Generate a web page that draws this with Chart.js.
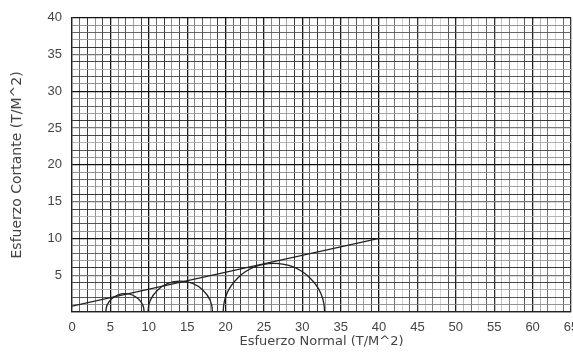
<!DOCTYPE html>
<html>
<head>
<meta charset="utf-8">
<script src="https://cdn.jsdelivr.net/npm/chart.js@4"></script>
<style>
  html, body { margin: 0; padding: 0; background: #fff; }
  #wrap { width: 573px; height: 354px; }
</style>
</head>
<body>
<div id="wrap"><canvas id="mohr"></canvas></div>
<script>
'use strict';

// envolvente de falla
const envelopeX = [0, 40];
const envelopeY = [0.8, 10];

// circulos de Mohr (centro, radio)
const circleCenters = [6.9, 14.1, 26.3];
const circleRadii = [2.5, 4.2, 6.6];

const xMin = 0, xMax = 65, yMin = 0, yMax = 40;

// darkness pattern of the scanned graph paper
const vShade = ['#111', '#555', '#222', '#888', '#333', '#1a1a1a', '#777', '#444', '#999', '#2a2a2a'];
const vShadeFar = ['#222', '#aaa', '#666', '#ccc', '#555', '#333', '#bbb', '#777', '#ccc', '#444'];
const hShade = ['#111', '#888', '#444', '#aaa', '#333', '#777', '#222', '#999', '#555', '#888'];

const circlesPlugin = {
  id: 'circles',
  afterDatasetsDraw(chart) {
    const { ctx, scales: { x, y } } = chart;
    ctx.save();
    ctx.strokeStyle = '#222';
    ctx.lineWidth = 1.3;
    circleCenters.forEach((c, i) => {
      const r = circleRadii[i];
      const cx = x.getPixelForValue(c);
      const cy = y.getPixelForValue(0);
      const rx = Math.abs(x.getPixelForValue(c + r) - cx);
      const ry = Math.abs(y.getPixelForValue(r) - cy);
      ctx.beginPath();
      ctx.ellipse(cx, cy, rx, ry, 0, Math.PI, 2 * Math.PI);
      ctx.stroke();
    });
    ctx.restore();
  }
};

new Chart('mohr', {
  type: 'scatter',
  data: {
    datasets: [{
      data: envelopeX.map((v, i) => ({ x: v, y: envelopeY[i] })),
      showLine: true,
      borderColor: '#222',
      borderWidth: 1.2,
      pointRadius: 0
    }]
  },
  options: {
    responsive: true,
    maintainAspectRatio: false,
    animation: false,
    layout: { padding: { left: 0, right: 2, top: 12, bottom: 0 } },
    plugins: { legend: { display: false }, tooltip: { enabled: false } },
    scales: {
      x: {
        type: 'linear',
        min: xMin,
        max: xMax,
        afterBuildTicks(scale) {
          const t = [];
          for (let v = xMin; v <= xMax; v++) t.push({ value: v });
          scale.ticks = t;
        },
        afterFit(scale) {
          scale.height = 42;
          scale.paddingLeft = 0;
          scale.paddingRight = 0;
        },
        border: { color: '#222', width: 1.2 },
        grid: {
          drawTicks: false,
          color: c => {
            const v = Math.round(c.tick.value);
            return (v <= 40 ? vShade : vShadeFar)[v % 10];
          },
          lineWidth: c => (c.tick.value % 5 === 0 ? 1.3 : 0.9)
        },
        ticks: {
          autoSkip: false,
          maxRotation: 0,
          padding: 8,
          color: '#444',
          font: { family: 'Liberation Sans', size: 13 },
          callback: v => (v % 5 === 0 ? String(v) : '')
        },
        title: {
          display: true,
          text: 'Esfuerzo Normal (T/M^2)',
          color: '#444',
          padding: { top: 0, bottom: 5 },
          font: { family: 'DejaVu Sans', size: 13 }
        }
      },
      y: {
        type: 'linear',
        min: yMin,
        max: yMax,
        afterBuildTicks(scale) {
          const t = [];
          for (let v = yMin; v <= yMax; v++) t.push({ value: v });
          scale.ticks = t;
        },
        afterFit(scale) {
          scale.width = 72;
        },
        border: { color: '#222', width: 1.2 },
        grid: {
          drawTicks: false,
          color: c => hShade[Math.round(c.tick.value) % hShade.length],
          lineWidth: c => (c.tick.value % 5 === 0 ? 1.3 : 0.9)
        },
        ticks: {
          autoSkip: false,
          padding: 10,
          color: '#444',
          font: { family: 'Liberation Sans', size: 13 },
          callback: v => (v % 5 === 0 && v !== 0 ? String(v) : '')
        },
        title: {
          display: true,
          text: 'Esfuerzo Cortante (T/M^2)',
          color: '#444',
          padding: { top: 9, bottom: 0 },
          font: { family: 'DejaVu Sans', size: 14 }
        }
      }
    }
  },
  plugins: [circlesPlugin]
});
</script>
</body>
</html>
